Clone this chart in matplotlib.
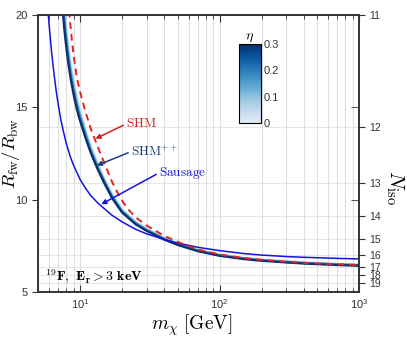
import numpy as np
import matplotlib
matplotlib.use('Agg')
import matplotlib.pyplot as plt
from matplotlib import cm, colors

# fonts
plt.rcParams['font.family'] = ['Liberation Sans', 'DejaVu Sans']
plt.rcParams['font.size'] = 8
plt.rcParams['mathtext.fontset'] = 'dejavusans'

# ---- data ----
# SHM++ band, one curve per eta
m_band = [7.5, 7.7, 8.0, 8.3, 8.6, 9.0, 9.5, 10, 11, 12, 13.5, 15, 17, 20, 25, 30, 40, 50, 70, 100, 150, 200, 300, 400, 700, 1000]
R_eta00 = [21.85, 20.7, 19.35, 18.28, 17.43, 16.53, 15.63, 14.93, 13.8, 12.91, 11.92, 11.14, 10.32, 9.5, 8.83, 8.45, 7.96, 7.65, 7.30, 7.04, 6.86, 6.77, 6.68, 6.62, 6.54, 6.50]
R_eta01 = [21.35, 20.23, 18.95, 17.93, 17.11, 16.24, 15.38, 14.71, 13.63, 12.77, 11.81, 11.05, 10.24, 9.43, 8.78, 8.40, 7.92, 7.62, 7.27, 7.01, 6.83, 6.74, 6.65, 6.59, 6.51, 6.47]
R_eta02 = [20.85, 19.77, 18.55, 17.58, 16.79, 15.96, 15.13, 14.49, 13.47, 12.63, 11.69, 10.95, 10.16, 9.37, 8.72, 8.36, 7.88, 7.58, 7.24, 6.99, 6.81, 6.72, 6.63, 6.57, 6.49, 6.45]
R_eta03 = [20.35, 19.3, 18.15, 17.23, 16.48, 15.68, 14.88, 14.28, 13.3, 12.49, 11.58, 10.86, 10.08, 9.31, 8.67, 8.31, 7.84, 7.55, 7.21, 6.96, 6.78, 6.69, 6.60, 6.54, 6.46, 6.42]
eta_vals = [0.0, 0.1, 0.2, 0.3]

# SHM (red dashed)
m_shm = [8.2, 8.4, 8.7, 9.0, 9.5, 10, 10.5, 11, 12, 13.5, 15, 17, 19.4, 22, 25, 30, 40, 50, 70, 100, 150, 200, 300, 400, 700, 1000]
R_shm = [20.9, 20.0, 18.8, 17.8, 16.6, 15.85, 15.25, 14.7, 13.8, 12.8, 11.95, 10.95, 10.1, 9.5, 9.05, 8.6, 8.05, 7.72, 7.3, 7.03, 6.84, 6.74, 6.64, 6.58, 6.5, 6.46]

# Sausage
m_sau = [5.8, 5.9, 6.0, 6.2, 6.4, 6.6, 6.8, 7.0, 7.3, 7.6, 8.0, 8.5, 9, 10, 11, 12, 13.5, 15, 17, 20, 25, 30, 40, 50, 70, 100, 150, 200, 300, 400, 700, 1000]
R_sau = [21.0, 20.2, 19.5, 18.3, 17.3, 16.45, 15.7, 15.1, 14.3, 13.7, 13.0, 12.35, 11.85, 11.1, 10.6, 10.2, 9.8, 9.5, 9.15, 8.8, 8.4, 8.15, 7.85, 7.65, 7.42, 7.24, 7.08, 7.0, 6.92, 6.88, 6.82, 6.79]

# right axis: N_iso labels and where they sit on the R axis
N_labels = ['11', '12', '13', '14', '15', '16', '17', '18', '19']
N_pos = [20.0, 13.94, 10.90, 9.10, 7.87, 7.00, 6.37, 5.90, 5.47]

# ---- plot ----
fig = plt.figure(figsize=(4.07, 3.4), dpi=100)
ax = fig.add_axes([0.0934, 0.1412, 0.7887, 0.8147])
ax.set_xscale('log')
ax.set_xlim(5, 1000)
ax.set_ylim(5, 20)

blues = plt.cm.Blues(np.linspace(0.12, 1.0, 256))
cmap = colors.LinearSegmentedColormap.from_list('band', blues)
norm = colors.Normalize(0, 0.3)

# grid
ax.grid(True, which='both', axis='x', color='#dedede', lw=0.8)
for r in N_pos:
    ax.axhline(r, color='#e6e6e6', lw=0.8, zorder=0.5)
ax.set_axisbelow(True)

for eta, R in zip(eta_vals, [R_eta00, R_eta01, R_eta02, R_eta03]):
    ax.plot(m_band, R, color=cmap(norm(eta)), lw=1.6, zorder=3)
ax.plot(m_sau, R_sau, color='#1414dc', lw=1.1, zorder=3.5)
ax.plot(m_shm, R_shm, color='#e02424', lw=1.4, ls=(0, (3.5, 2.5)), zorder=4)

# annotations
arr = dict(arrowstyle='-|>', lw=1.1, mutation_scale=7, shrinkA=0, shrinkB=0, relpos=(0, 0.5))
ax.annotate(r'$\mathrm{SHM}$', xy=(12.9, 13.3), xytext=(21.4, 14.1), color='#d42020',
            fontsize=9.5, va='center', ha='left', math_fontfamily='cm',
            arrowprops=dict(arr, color='#d42020'), zorder=5)
ax.annotate(r'$\mathrm{SHM}^{++}$', xy=(13.2, 11.85), xytext=(23.2, 12.6), color='#1c3f78',
            fontsize=9.5, va='center', ha='left', math_fontfamily='cm',
            arrowprops=dict(arr, color='#1c3f78'), zorder=5)
ax.annotate(r'$\mathrm{Sausage}$', xy=(14.2, 9.75), xytext=(36.8, 11.45), color='#1414dc',
            fontsize=9.5, va='center', ha='left', math_fontfamily='cm',
            arrowprops=dict(arr, color='#1414dc'), zorder=5)

ax.text(0.022, 0.038, r'$\mathbf{{}^{19}F,\ E_{r} > 3\ keV}$', transform=ax.transAxes,
        fontsize=10, math_fontfamily='cm', zorder=6)

# axes styling
ax.set_yticks([5, 10, 15, 20])
ax.tick_params(axis='x', which='both', direction='in', top=True, colors='#333333')
ax.tick_params(axis='x', which='major', length=5)
ax.tick_params(axis='x', which='minor', length=3)
ax.tick_params(axis='y', direction='out', length=4, colors='#333333')
ax.set_xlabel(r'$m_\chi\ [\mathrm{GeV}]$', fontsize=14, math_fontfamily='cm')
ax.set_ylabel(r'$R_{\rm fw}/R_{\rm bw}$', fontsize=13.5, math_fontfamily='cm')
ax.xaxis.set_label_coords(0.48, -0.075)
ax.yaxis.set_label_coords(-0.05, 0.5)

ax2 = ax.twinx()
ax2.set_ylim(5, 20)
ax2.set_yticks(N_pos, labels=N_labels)
ax2.set_yticks([10, 15], minor=True)
ax2.tick_params(which='major', direction='out', length=4, colors='#333333', labelsize=7.5)
ax2.tick_params(which='minor', direction='in', length=6, color='#333333')
ax2.set_ylabel(r'$N_{\rm iso}$', fontsize=15, rotation=270, math_fontfamily='cm')
ax2.yaxis.set_label_coords(1.145, 0.375)

for a in (ax, ax2):
    for s in a.spines.values():
        s.set_linewidth(1.2)
        s.set_color('#333333')

# colorbar for eta
cax = fig.add_axes([0.587, 0.638, 0.054, 0.232])
cb = fig.colorbar(cm.ScalarMappable(norm=norm, cmap=cmap), cax=cax, ticks=eta_vals)
cb.set_ticklabels(['0', '0.1', '0.2', '0.3'])
cb.ax.tick_params(length=0, labelsize=8, pad=2, colors='#333333')
cb.outline.set_linewidth(0.8)
cax.set_title(r'$\eta$', fontsize=10, pad=3, math_fontfamily='cm')

fig.savefig('out.png', dpi=100)
